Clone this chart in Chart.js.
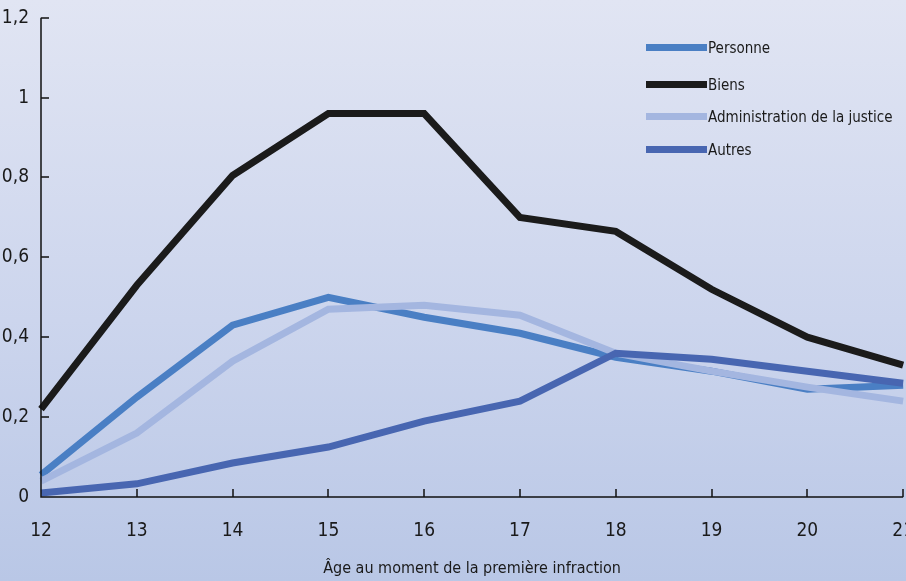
<!DOCTYPE html>
<html>
<head>
<meta charset="utf-8">
<script src="https://cdn.jsdelivr.net/npm/chart.js@4.4.1/dist/chart.umd.min.js"></script>
<style>
html,body{margin:0;padding:0;overflow:hidden;}
body{width:906px;height:581px;background:linear-gradient(180deg,#e1e5f3 0%,#ccd5ed 55%,#b9c7e6 100%);}
#wrap{position:relative;width:937px;height:581px;}
</style>
</head>
<body>
<div id="wrap"><canvas id="ageChart" width="937" height="581"></canvas></div>
<script>
const ages=['12','13','14','15','16','17','18','19','20','21'];
const personne=[0.055,0.25,0.43,0.50,0.45,0.41,0.35,0.315,0.27,0.28];
const biens=[0.22,0.53,0.805,0.96,0.96,0.70,0.665,0.52,0.40,0.33];
const adminJustice=[0.04,0.16,0.34,0.47,0.48,0.455,0.36,0.315,0.275,0.24];
const autres=[0.01,0.033,0.085,0.125,0.19,0.24,0.36,0.345,0.315,0.285];

const FONT="'DejaVu Sans',sans-serif";

// ticks drawn inside the plot, like the original
const innerTicks={
id:'innerTicks',
afterDraw(chart){
const c=chart.ctx, a=chart.chartArea, x=chart.scales.x, y=chart.scales.y;
c.save();
c.strokeStyle='#111';
c.lineWidth=1.5;
c.beginPath();
c.moveTo(a.left,a.top);c.lineTo(a.left,a.bottom);c.lineTo(a.right,a.bottom);
y.ticks.forEach(t=>{
let py=Math.round(y.getPixelForValue(t.value));
c.moveTo(a.left,py);c.lineTo(a.left+8,py);
});
ages.forEach((l,i)=>{
let px=Math.round(x.getPixelForValue(i));
c.moveTo(px,a.bottom);c.lineTo(px,a.bottom-8);
});
c.stroke();
c.restore();
}
};

// legend placed inside the plot, top right
const innerLegend={
id:'innerLegend',
afterDraw(chart){
const c=chart.ctx;
c.save();
c.font='condensed 15px '+FONT;
c.textBaseline='middle';
const rows=[48,85,117,150];
chart.data.datasets.forEach((ds,i)=>{
c.fillStyle=ds.borderColor;
c.fillRect(646,rows[i]-4,61,7);
c.fillStyle='#1a1a1a';
c.fillText(ds.label,708,rows[i]+1);
});
c.restore();
}
};

const ctx=document.getElementById('ageChart');

new Chart(ctx,{
type:'line',
data:{
labels:ages,
datasets:[
{label:'Personne',data:personne,borderColor:'#4a7fc4',order:2},
{label:'Biens',data:biens,borderColor:'#1b1b1b',order:3},
{label:'Administration de la justice',data:adminJustice,borderColor:'#a4b6e0',order:1},
{label:'Autres',data:autres,borderColor:'#4866b1',order:0}
]
},
options:{
responsive:false,
animation:false,
events:[],
layout:{padding:{top:17,right:0,left:0,bottom:0}},
elements:{
line:{borderWidth:7,tension:0,borderJoinStyle:'miter',borderCapStyle:'butt'},
point:{radius:0}
},
plugins:{
legend:{display:false},
tooltip:{enabled:false}
},
scales:{
x:{
offset:false,
grid:{display:false,drawTicks:false},
border:{display:false},
ticks:{color:'#1a1a1a',padding:23,maxRotation:0,autoSkip:false,font:{family:FONT,size:19,weight:'condensed'}},
title:{display:true,text:'Âge au moment de la première infraction',color:'#1a1a1a',padding:{top:11,bottom:3},font:{family:FONT,size:16,weight:'condensed'}},
afterFit(s){s.height=84;}
},
y:{
min:0,max:1.2,
grid:{display:false,drawTicks:false},
border:{display:false},
ticks:{stepSize:0.2,color:'#1a1a1a',padding:12,font:{family:FONT,size:19,weight:'condensed',lineHeight:0.6},
callback:v=>String(Math.round(v*10)/10).replace('.',',')},
afterFit(s){s.width=41;}
}
}
},
plugins:[innerTicks,innerLegend]
});
</script>
</body>
</html>
